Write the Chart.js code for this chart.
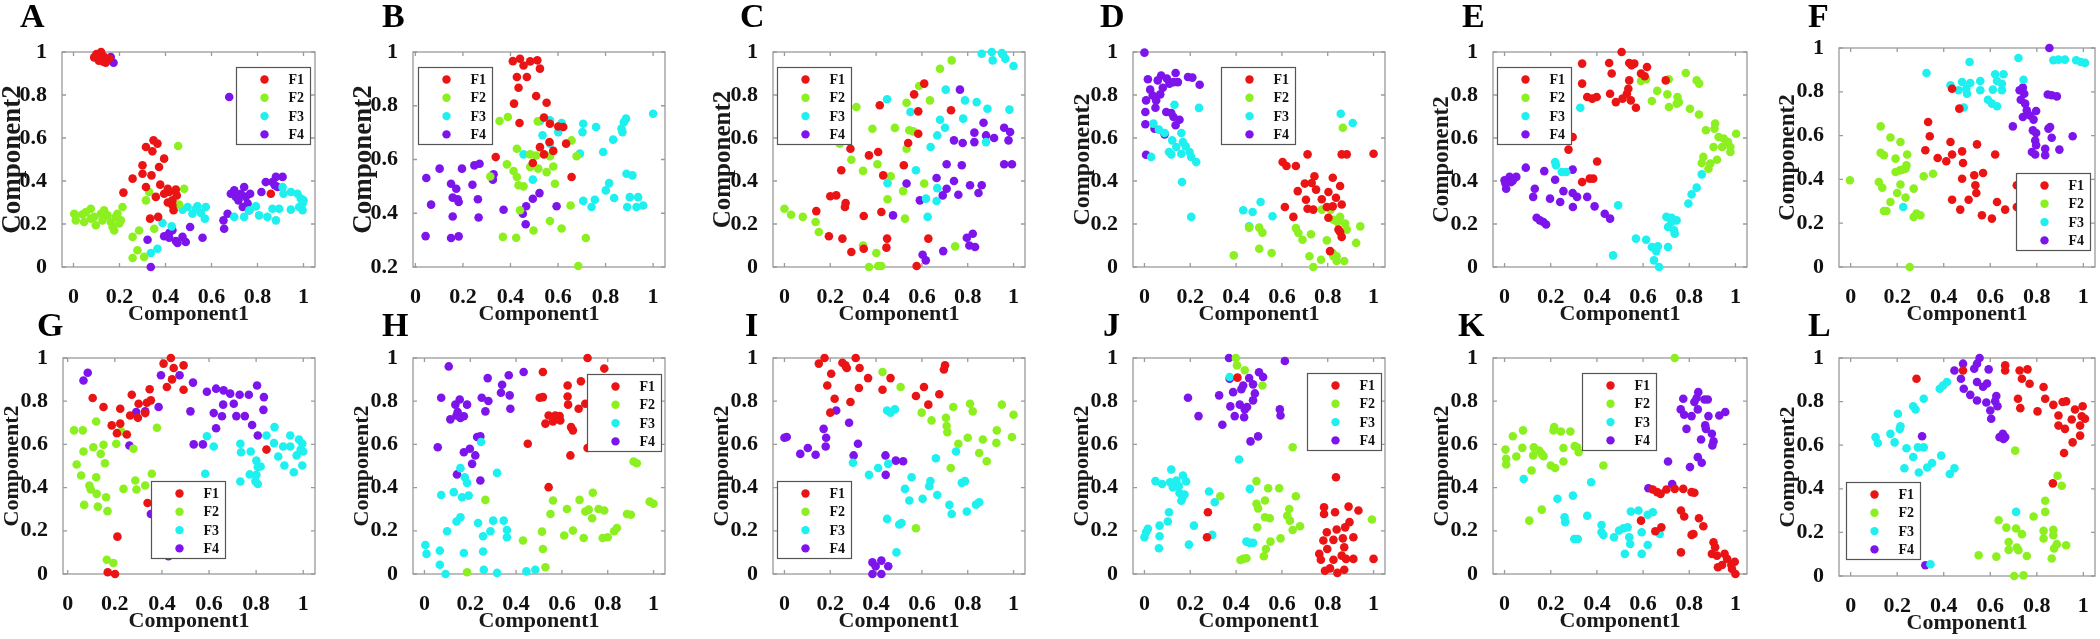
<!DOCTYPE html>
<html>
<head>
<meta charset="utf-8">
<script src="https://cdn.jsdelivr.net/npm/chart.js@4.4.0/dist/chart.umd.min.js"></script>
<style>
  html, body { margin: 0; padding: 0; background: #fff; width: 2100px; height: 639px; overflow: hidden; position: relative; }
  canvas { position: absolute; }
</style>
</head>
<body>
<script>
// series names, colours and tick values
const SERIES = ['F1', 'F2', 'F3', 'F4'];
const COLORS = ['#eb1414', '#8cf020', '#1ef0f0', '#7d14eb'];
const TICKS = [0, 0.2, 0.4, 0.6, 0.8, 1];
const TICKS_B = [0.2, 0.4, 0.6, 0.8, 1];

// panel A
const A_F1 = [[0.10,0.99],[0.12,1.0],[0.13,0.98],[0.11,0.96],[0.13,0.955],[0.155,0.97],[0.14,0.95],[0.09,0.975],[0.315,0.558],[0.348,0.589],[0.365,0.574],[0.343,0.538],[0.394,0.504],[0.30,0.473],[0.372,0.465],[0.30,0.434],[0.339,0.426],[0.257,0.411],[0.315,0.372],[0.377,0.383],[0.217,0.346],[0.358,0.326],[0.394,0.341],[0.416,0.349],[0.41,0.364],[0.445,0.36],[0.43,0.31],[0.449,0.333],[0.43,0.287],[0.41,0.30],[0.435,0.264],[0.368,0.233],[0.333,0.225],[0.858,0.341]];
const A_F2 = [[0.003,0.248],[0.01,0.217],[0.04,0.245],[0.046,0.209],[0.054,0.256],[0.075,0.271],[0.09,0.233],[0.097,0.194],[0.119,0.248],[0.126,0.217],[0.133,0.264],[0.148,0.24],[0.162,0.209],[0.17,0.186],[0.184,0.233],[0.191,0.248],[0.199,0.202],[0.177,0.17],[0.206,0.217],[0.213,0.279],[0.075,0.225],[0.01,0.24],[0.455,0.563],[0.481,0.364],[0.329,0.349],[0.315,0.31],[0.285,0.17],[0.257,0.14],[0.351,0.178],[0.278,0.078],[0.257,0.042],[0.307,0.047],[0.459,0.291]];
const A_F3 = [[0.336,0.065],[0.365,0.085],[0.387,0.205],[0.427,0.189],[0.474,0.267],[0.496,0.279],[0.517,0.248],[0.532,0.271],[0.539,0.282],[0.554,0.251],[0.575,0.279],[0.571,0.225],[0.699,0.233],[0.742,0.233],[0.764,0.264],[0.793,0.282],[0.807,0.24],[0.843,0.233],[0.88,0.217],[0.894,0.271],[0.909,0.372],[0.913,0.341],[0.945,0.349],[0.974,0.341],[0.988,0.318],[0.996,0.295],[0.981,0.279],[0.945,0.267],[0.996,0.264],[1.0,0.31],[0.865,0.271]];
const A_F4 = [[0.162,0.977],[0.174,0.95],[0.677,0.791],[0.322,0.127],[0.336,0.0],[0.394,0.143],[0.416,0.158],[0.43,0.171],[0.416,0.136],[0.445,0.121],[0.474,0.14],[0.488,0.116],[0.452,0.112],[0.507,0.186],[0.561,0.136],[0.652,0.217],[0.67,0.248],[0.655,0.178],[0.684,0.341],[0.699,0.357],[0.706,0.326],[0.717,0.31],[0.728,0.341],[0.742,0.372],[0.749,0.326],[0.757,0.295],[0.768,0.341],[0.736,0.279],[0.764,0.264],[0.817,0.349],[0.836,0.395],[0.865,0.395],[0.88,0.419],[0.909,0.419],[0.887,0.372],[0.875,0.38]];

// panel B
const B_F1 = [[0.41,0.966],[0.44,0.975],[0.455,0.95],[0.483,0.965],[0.513,0.969],[0.524,0.938],[0.427,0.907],[0.469,0.907],[0.434,0.867],[0.508,0.836],[0.415,0.808],[0.552,0.811],[0.541,0.756],[0.438,0.736],[0.566,0.733],[0.601,0.723],[0.622,0.721],[0.564,0.665],[0.524,0.646],[0.634,0.659],[0.58,0.632],[0.541,0.619],[0.338,0.609],[0.494,0.587],[0.657,0.535]];
const B_F2 = [[0.354,0.743],[0.389,0.758],[0.515,0.742],[0.427,0.64],[0.657,0.671],[0.678,0.612],[0.483,0.619],[0.508,0.615],[0.566,0.612],[0.385,0.582],[0.413,0.557],[0.427,0.535],[0.483,0.572],[0.517,0.566],[0.552,0.553],[0.58,0.574],[0.434,0.504],[0.455,0.5],[0.587,0.51],[0.315,0.537],[0.44,0.411],[0.566,0.371],[0.497,0.336],[0.615,0.343],[0.368,0.312],[0.424,0.309],[0.717,0.308],[0.685,0.204],[0.653,0.429]];
const B_F3 = [[0.524,0.743],[0.566,0.746],[0.615,0.736],[0.535,0.69],[0.601,0.702],[0.566,0.659],[0.455,0.619],[0.494,0.525],[0.706,0.733],[0.703,0.702],[0.76,0.721],[0.692,0.622],[0.79,0.628],[0.832,0.674],[0.867,0.715],[0.877,0.739],[0.886,0.752],[1.0,0.77],[0.871,0.702],[0.815,0.512],[0.801,0.485],[0.888,0.547],[0.913,0.541],[0.836,0.457],[0.937,0.46],[0.902,0.46],[0.706,0.446],[0.755,0.45],[0.741,0.423],[0.891,0.423],[0.93,0.423],[0.958,0.429]];
const B_F4 = [[0.046,0.531],[0.102,0.566],[0.196,0.566],[0.248,0.578],[0.27,0.584],[0.066,0.432],[0.15,0.51],[0.172,0.491],[0.24,0.506],[0.157,0.458],[0.178,0.452],[0.182,0.442],[0.263,0.452],[0.157,0.388],[0.266,0.384],[0.043,0.315],[0.15,0.308],[0.182,0.314],[0.329,0.545],[0.326,0.525],[0.371,0.413],[0.452,0.398],[0.466,0.426],[0.464,0.359],[0.494,0.454],[0.522,0.475],[0.594,0.426]];

// panel C
const C_F1 = [[0.288,0.55],[0.369,0.519],[0.409,0.535],[0.248,0.45],[0.431,0.426],[0.2,0.329],[0.226,0.333],[0.267,0.298],[0.264,0.279],[0.139,0.26],[0.346,0.237],[0.423,0.256],[0.194,0.143],[0.253,0.132],[0.292,0.07],[0.346,0.085],[0.448,0.132],[0.445,0.09],[0.416,0.752],[0.521,0.473],[0.54,0.577],[0.566,0.803],[0.584,0.724],[0.584,0.62],[0.61,0.853],[0.727,0.729],[0.628,0.132],[0.577,0.005]];
const C_F2 = [[0.0,0.271],[0.029,0.243],[0.08,0.233],[0.136,0.209],[0.15,0.163],[0.314,0.744],[0.384,0.643],[0.482,0.647],[0.292,0.499],[0.343,0.447],[0.406,0.478],[0.464,0.422],[0.45,0.315],[0.518,0.353],[0.526,0.225],[0.533,0.764],[0.533,0.55],[0.545,0.636],[0.562,0.631],[0.588,0.842],[0.635,0.775],[0.679,0.922],[0.73,0.961],[0.61,0.388],[0.343,0.1],[0.401,0.065],[0.369,0.0],[0.409,0.005],[0.423,0.005],[0.745,0.096],[0.241,0.574]];
const C_F3 = [[0.448,0.78],[0.55,0.721],[0.704,0.825],[0.679,0.685],[0.701,0.648],[0.667,0.612],[0.638,0.558],[0.788,0.775],[0.839,0.767],[0.78,0.69],[0.886,0.736],[0.982,0.732],[0.88,0.581],[0.861,0.992],[0.905,1.0],[0.909,0.961],[0.949,0.995],[0.964,0.969],[1.0,0.935],[0.953,0.988],[0.574,0.45],[0.45,0.39],[0.618,0.318],[0.625,0.233],[0.664,0.307],[0.667,0.367]];
const C_F4 = [[0.766,0.825],[0.829,0.625],[0.869,0.671],[0.88,0.612],[0.915,0.6],[0.959,0.648],[0.985,0.628],[0.978,0.589],[0.74,0.589],[0.778,0.577],[0.829,0.581],[0.708,0.478],[0.774,0.473],[0.959,0.478],[0.993,0.478],[0.664,0.414],[0.74,0.4],[0.81,0.38],[0.861,0.38],[0.708,0.364],[0.691,0.333],[0.759,0.336],[0.847,0.344],[0.533,0.388],[0.474,0.24],[0.591,0.31],[0.796,0.136],[0.822,0.155],[0.807,0.1],[0.832,0.093],[0.603,0.057],[0.617,0.031],[0.693,0.074]];

// panel D
const D_F1 = [[0.603,0.488],[0.62,0.47],[0.661,0.47],[0.712,0.524],[0.669,0.353],[0.7,0.388],[0.73,0.391],[0.742,0.422],[0.749,0.36],[0.705,0.313],[0.712,0.271],[0.737,0.267],[0.774,0.315],[0.796,0.279],[0.803,0.349],[0.822,0.415],[0.836,0.322],[0.854,0.377],[0.861,0.291],[0.822,0.282],[0.803,0.229],[0.847,0.174],[0.861,0.14],[0.81,0.074],[0.613,0.279],[0.65,0.233],[0.861,0.524],[0.883,0.524],[1.0,0.527],[0.854,0.163]];
const D_F2 = [[0.866,0.648],[0.39,0.054],[0.457,0.183],[0.501,0.183],[0.515,0.16],[0.501,0.085],[0.555,0.065],[0.661,0.181],[0.672,0.158],[0.69,0.127],[0.727,0.152],[0.72,0.05],[0.737,0.0],[0.771,0.034],[0.796,0.124],[0.813,0.267],[0.825,0.22],[0.842,0.209],[0.854,0.233],[0.876,0.202],[0.883,0.174],[0.872,0.028],[0.839,0.05],[0.822,0.065],[0.839,0.028],[0.942,0.189],[0.924,0.112],[0.774,0.267],[0.825,0.05]];
const D_F3 = [[0.131,0.755],[0.238,0.74],[0.039,0.667],[0.063,0.639],[0.088,0.623],[0.121,0.589],[0.139,0.558],[0.161,0.623],[0.168,0.581],[0.18,0.561],[0.197,0.535],[0.226,0.488],[0.161,0.527],[0.107,0.535],[0.117,0.524],[0.029,0.512],[0.164,0.395],[0.204,0.233],[0.431,0.264],[0.472,0.256],[0.507,0.302],[0.559,0.236],[0.457,0.189],[0.857,0.713],[0.909,0.67],[0.204,0.512]];
const D_F4 = [[0.0,0.997],[0.015,0.873],[0.025,0.825],[0.007,0.775],[0.004,0.721],[0.004,0.664],[0.007,0.522],[0.048,0.741],[0.044,0.643],[0.088,0.617],[0.073,0.891],[0.058,0.868],[0.098,0.876],[0.109,0.853],[0.136,0.902],[0.146,0.86],[0.127,0.86],[0.069,0.803],[0.08,0.834],[0.095,0.721],[0.117,0.716],[0.127,0.698],[0.136,0.659],[0.153,0.685],[0.19,0.884],[0.209,0.881],[0.241,0.848],[0.036,0.798],[0.051,0.775]];

// panel E
const E_F1 = [[0.507,1.0],[0.336,0.946],[0.453,0.949],[0.54,0.949],[0.55,0.938],[0.562,0.946],[0.617,0.93],[0.464,0.9],[0.336,0.853],[0.54,0.868],[0.591,0.9],[0.607,0.887],[0.698,0.868],[0.536,0.829],[0.53,0.806],[0.457,0.806],[0.511,0.783],[0.482,0.767],[0.547,0.775],[0.569,0.741],[0.358,0.791],[0.38,0.783],[0.399,0.791],[0.295,0.605],[0.277,0.546],[0.401,0.491],[0.336,0.395],[0.369,0.411],[0.384,0.411]];
const E_F2 = [[0.591,0.865],[0.613,0.873],[0.711,0.873],[0.785,0.902],[0.832,0.868],[0.843,0.853],[0.661,0.819],[0.638,0.772],[0.705,0.803],[0.749,0.791],[0.755,0.767],[0.712,0.744],[0.746,0.76],[0.803,0.736],[0.842,0.709],[0.872,0.636],[0.912,0.667],[0.909,0.643],[0.927,0.605],[0.949,0.597],[0.968,0.581],[1.003,0.62],[0.905,0.558],[0.942,0.558],[0.978,0.558],[0.978,0.535],[0.861,0.512],[0.854,0.484],[0.92,0.499],[0.891,0.481],[0.883,0.457]];
const E_F3 = [[0.328,0.741],[0.219,0.488],[0.223,0.473],[0.248,0.442],[0.267,0.442],[0.492,0.287],[0.47,0.054],[0.569,0.132],[0.613,0.127],[0.638,0.093],[0.664,0.096],[0.647,0.031],[0.669,0.0],[0.657,0.074],[0.708,0.093],[0.701,0.233],[0.723,0.229],[0.745,0.217],[0.708,0.186],[0.734,0.171],[0.737,0.155],[0.723,0.209],[0.796,0.295],[0.81,0.338],[0.832,0.369],[0.854,0.431]];
const E_F4 = [[0.0,0.403],[0.007,0.364],[0.022,0.419],[0.029,0.395],[0.036,0.403],[0.051,0.419],[0.004,0.388],[0.092,0.462],[0.131,0.364],[0.124,0.326],[0.139,0.229],[0.153,0.217],[0.168,0.209],[0.18,0.198],[0.172,0.446],[0.197,0.318],[0.219,0.406],[0.241,0.302],[0.255,0.353],[0.295,0.344],[0.314,0.326],[0.296,0.279],[0.295,0.453],[0.358,0.326],[0.39,0.282],[0.434,0.248],[0.457,0.225]];

// panel F
const F_F1 = [[0.436,0.814],[0.467,0.723],[0.333,0.662],[0.34,0.597],[0.429,0.571],[0.321,0.533],[0.374,0.498],[0.411,0.483],[0.436,0.514],[0.479,0.528],[0.483,0.475],[0.543,0.56],[0.531,0.419],[0.569,0.429],[0.536,0.373],[0.54,0.338],[0.479,0.403],[0.436,0.307],[0.507,0.307],[0.471,0.262],[0.564,0.236],[0.607,0.221],[0.621,0.514],[0.629,0.297],[0.664,0.262],[0.714,0.373],[0.714,0.274]];
const F_F2 = [[-0.003,0.396],[0.129,0.642],[0.171,0.591],[0.214,0.571],[0.129,0.521],[0.143,0.51],[0.193,0.495],[0.243,0.514],[0.24,0.464],[0.211,0.441],[0.193,0.434],[0.221,0.444],[0.236,0.449],[0.121,0.388],[0.136,0.362],[0.214,0.377],[0.2,0.338],[0.236,0.317],[0.271,0.358],[0.314,0.414],[0.354,0.426],[0.171,0.297],[0.143,0.256],[0.154,0.256],[0.271,0.228],[0.283,0.244],[0.3,0.236],[0.254,0.0]];
const F_F3 = [[0.326,0.886],[0.511,0.936],[0.721,0.954],[0.429,0.83],[0.479,0.845],[0.497,0.814],[0.514,0.84],[0.557,0.849],[0.464,0.807],[0.5,0.791],[0.557,0.807],[0.621,0.88],[0.657,0.88],[0.629,0.849],[0.65,0.837],[0.611,0.81],[0.65,0.807],[0.59,0.764],[0.607,0.746],[0.629,0.734],[0.743,0.855],[0.486,0.728],[0.871,0.944],[0.893,0.947],[0.921,0.947],[0.969,0.944],[0.989,0.936],[1.007,0.932],[0.226,0.274]];
const F_F4 = [[0.854,1.0],[0.697,0.642],[0.726,0.807],[0.74,0.819],[0.746,0.791],[0.731,0.764],[0.75,0.746],[0.757,0.715],[0.74,0.685],[0.771,0.692],[0.797,0.712],[0.786,0.673],[0.783,0.624],[0.797,0.612],[0.793,0.578],[0.797,0.556],[0.779,0.525],[0.793,0.514],[0.836,0.54],[0.836,0.51],[0.85,0.632],[0.864,0.59],[0.897,0.536],[0.954,0.597],[0.847,0.788],[0.864,0.784],[0.886,0.779],[0.857,0.639]];

// panel G
const G_F1 = [[0.438,1.0],[0.407,0.974],[0.45,0.954],[0.492,0.966],[0.443,0.901],[0.421,0.866],[0.492,0.853],[0.348,0.855],[0.353,0.804],[0.336,0.793],[0.272,0.83],[0.301,0.788],[0.106,0.815],[0.152,0.773],[0.223,0.765],[0.265,0.734],[0.298,0.723],[0.329,0.745],[0.187,0.688],[0.223,0.696],[0.209,0.652],[0.251,0.646],[0.339,0.329],[0.211,0.173],[0.17,0.008],[0.201,0.0],[0.844,0.576]];
const G_F2 = [[0.027,0.665],[0.064,0.665],[0.121,0.706],[0.067,0.567],[0.038,0.507],[0.057,0.456],[0.109,0.587],[0.152,0.598],[0.14,0.556],[0.158,0.513],[0.206,0.603],[0.228,0.66],[0.279,0.58],[0.379,0.677],[0.092,0.41],[0.098,0.391],[0.121,0.448],[0.123,0.371],[0.163,0.355],[0.07,0.32],[0.128,0.312],[0.169,0.291],[0.287,0.433],[0.292,0.391],[0.329,0.41],[0.357,0.464],[0.237,0.394],[0.166,0.066],[0.194,0.051]];
const G_F3 = [[0.591,0.638],[0.584,0.464],[0.62,0.59],[0.733,0.603],[0.736,0.564],[0.777,0.567],[0.733,0.428],[0.773,0.461],[0.801,0.459],[0.797,0.43],[0.807,0.417],[0.801,0.525],[0.819,0.498],[0.807,0.495],[0.844,0.641],[0.878,0.68],[0.876,0.606],[0.894,0.544],[0.915,0.59],[0.92,0.502],[0.945,0.641],[0.945,0.59],[0.96,0.471],[0.982,0.623],[0.996,0.603],[0.989,0.575],[0.996,0.502],[0.972,0.549],[1.0,0.567]];
const G_F4 = [[0.067,0.896],[0.085,0.932],[0.396,0.92],[0.475,0.92],[0.532,0.886],[0.521,0.753],[0.591,0.844],[0.63,0.858],[0.662,0.85],[0.69,0.835],[0.73,0.83],[0.769,0.83],[0.804,0.873],[0.833,0.819],[0.831,0.76],[0.783,0.69],[0.807,0.641],[0.62,0.745],[0.655,0.73],[0.66,0.784],[0.705,0.788],[0.716,0.731],[0.752,0.731],[0.63,0.675],[0.535,0.6],[0.574,0.6],[0.291,0.75],[0.329,0.753],[0.386,0.773],[0.262,0.595],[0.353,0.278],[0.428,0.082]];

// panel H
const H_F1 = [[0.712,1.0],[0.785,0.951],[0.517,0.935],[0.625,0.873],[0.683,0.892],[0.503,0.816],[0.517,0.819],[0.625,0.822],[0.627,0.784],[0.702,0.788],[0.673,0.765],[0.528,0.696],[0.542,0.734],[0.571,0.734],[0.59,0.731],[0.561,0.706],[0.593,0.711],[0.64,0.68],[0.648,0.665],[0.451,0.603],[0.637,0.549],[0.712,0.583],[0.542,0.402]];
const H_F2 = [[0.913,0.521],[0.927,0.513],[0.266,0.343],[0.561,0.34],[0.622,0.301],[0.677,0.343],[0.735,0.376],[0.55,0.278],[0.702,0.289],[0.717,0.298],[0.732,0.258],[0.76,0.301],[0.785,0.294],[0.884,0.278],[0.901,0.274],[0.983,0.335],[1.0,0.325],[0.43,0.155],[0.513,0.196],[0.517,0.116],[0.61,0.178],[0.648,0.201],[0.695,0.167],[0.778,0.167],[0.8,0.17],[0.828,0.198],[0.84,0.213],[0.528,0.031],[0.186,0.008]];
const H_F3 = [[0.004,0.134],[0.009,0.093],[0.067,0.108],[0.067,0.043],[0.092,0.0],[0.099,0.198],[0.073,0.366],[0.128,0.379],[0.157,0.49],[0.14,0.243],[0.157,0.263],[0.172,0.097],[0.164,0.355],[0.186,0.422],[0.176,0.448],[0.193,0.363],[0.234,0.236],[0.247,0.611],[0.256,0.175],[0.256,0.104],[0.259,0.02],[0.288,0.198],[0.3,0.247],[0.317,0.468],[0.317,0.005],[0.346,0.247],[0.36,0.204],[0.36,0.17],[0.445,0.012],[0.484,0.02]];
const H_F4 = [[0.106,0.961],[0.073,0.816],[0.058,0.587],[0.113,0.716],[0.135,0.784],[0.145,0.75],[0.14,0.734],[0.157,0.722],[0.154,0.808],[0.172,0.73],[0.186,0.784],[0.276,0.907],[0.25,0.816],[0.279,0.801],[0.266,0.753],[0.339,0.876],[0.334,0.839],[0.368,0.92],[0.372,0.827],[0.375,0.765],[0.433,0.935],[0.23,0.634],[0.244,0.637],[0.172,0.564],[0.198,0.58],[0.222,0.549],[0.208,0.51],[0.142,0.461],[0.244,0.433]];

// panel I
const I_F1 = [[0.175,1.0],[0.15,0.974],[0.204,0.927],[0.187,0.873],[0.219,0.811],[0.2,0.747],[0.253,0.978],[0.266,0.966],[0.272,0.954],[0.311,1.0],[0.328,0.954],[0.325,0.861],[0.365,0.907],[0.288,0.796],[0.428,0.853],[0.463,0.907],[0.574,0.824],[0.609,0.866],[0.628,0.784],[0.676,0.832],[0.701,0.966],[0.696,0.947]];
const I_F2 = [[0.428,0.935],[0.507,0.866],[0.599,0.747],[0.642,0.711],[0.705,0.723],[0.708,0.685],[0.711,0.657],[0.737,0.773],[0.81,0.788],[0.822,0.753],[0.949,0.784],[1.0,0.737],[0.759,0.603],[0.8,0.631],[0.866,0.623],[0.85,0.56],[0.883,0.522],[0.927,0.665],[0.925,0.607],[0.993,0.634],[0.726,0.491],[0.574,0.212]];
const I_F3 = [[0.448,0.757],[0.463,0.747],[0.482,0.762],[0.299,0.515],[0.369,0.459],[0.409,0.491],[0.453,0.51],[0.526,0.394],[0.555,0.448],[0.545,0.34],[0.603,0.348],[0.632,0.406],[0.637,0.43],[0.661,0.536],[0.667,0.366],[0.749,0.567],[0.72,0.32],[0.73,0.278],[0.774,0.422],[0.788,0.43],[0.796,0.289],[0.836,0.321],[0.85,0.332],[0.448,0.255],[0.501,0.229],[0.511,0.236],[0.489,0.1]];
const I_F4 = [[0.0,0.631],[0.01,0.634],[0.069,0.556],[0.102,0.583],[0.136,0.552],[0.171,0.672],[0.182,0.631],[0.18,0.59],[0.226,0.757],[0.282,0.7],[0.321,0.603],[0.302,0.549],[0.441,0.549],[0.442,0.459],[0.486,0.525],[0.518,0.522],[0.384,0.054],[0.398,0.036],[0.423,0.062],[0.453,0.036],[0.384,0.0],[0.423,0.0]];

// panel J
const J_F1 = [[0.406,0.909],[0.277,0.286],[0.273,0.17],[0.784,0.309],[0.784,0.278],[0.832,0.286],[0.836,0.448],[0.891,0.312],[0.934,0.294],[0.796,0.193],[0.839,0.206],[0.876,0.216],[0.895,0.24],[0.912,0.17],[0.781,0.155],[0.825,0.158],[0.866,0.165],[0.872,0.124],[0.763,0.093],[0.798,0.116],[0.77,0.066],[0.825,0.066],[0.861,0.085],[0.88,0.07],[0.912,0.07],[1.0,0.07],[0.81,0.026],[0.842,0.005],[0.872,0.02],[0.788,0.015]];
const J_F2 = [[0.399,1.0],[0.404,0.966],[0.438,0.943],[0.515,0.873],[0.647,0.587],[0.489,0.43],[0.54,0.397],[0.588,0.397],[0.661,0.36],[0.331,0.36],[0.489,0.325],[0.496,0.304],[0.526,0.34],[0.526,0.263],[0.547,0.258],[0.623,0.27],[0.632,0.301],[0.635,0.247],[0.492,0.216],[0.594,0.165],[0.55,0.15],[0.53,0.116],[0.521,0.082],[0.647,0.204],[0.679,0.221],[0.993,0.252],[0.419,0.065],[0.431,0.07],[0.445,0.073]];
const J_F3 = [[0.372,0.912],[0.413,0.53],[0.46,0.394],[0.282,0.382],[0.307,0.332],[0.296,0.181],[0.216,0.224],[0.194,0.136],[0.063,0.119],[0.066,0.175],[0.066,0.224],[0.007,0.193],[0.015,0.209],[0.0,0.17],[0.102,0.243],[0.107,0.286],[0.048,0.43],[0.077,0.417],[0.117,0.484],[0.112,0.425],[0.124,0.402],[0.139,0.433],[0.15,0.407],[0.168,0.456],[0.182,0.428],[0.153,0.375],[0.165,0.352],[0.175,0.368],[0.161,0.339],[0.445,0.15],[0.46,0.144],[0.474,0.144]];
const J_F4 = [[0.369,1.0],[0.372,0.904],[0.613,0.986],[0.19,0.816],[0.236,0.731],[0.326,0.827],[0.34,0.691],[0.387,0.842],[0.375,0.776],[0.394,0.731],[0.416,0.784],[0.423,0.855],[0.431,0.873],[0.457,0.907],[0.474,0.878],[0.438,0.762],[0.435,0.726],[0.448,0.773],[0.474,0.804],[0.482,0.836],[0.5,0.934],[0.518,0.912],[0.463,0.614],[0.496,0.637],[0.591,0.762],[0.594,0.734]];

// panel K
const K_F1 = [[0.642,0.391],[0.661,0.379],[0.676,0.371],[0.701,0.391],[0.737,0.394],[0.774,0.394],[0.81,0.379],[0.822,0.376],[0.764,0.294],[0.778,0.266],[0.842,0.258],[0.861,0.221],[0.81,0.181],[0.818,0.185],[0.591,0.247],[0.653,0.198],[0.679,0.216],[0.764,0.1],[0.905,0.147],[0.912,0.124],[0.898,0.093],[0.92,0.085],[0.953,0.093],[0.964,0.07],[0.982,0.042],[0.997,0.057],[0.942,0.042],[0.924,0.031],[0.985,0.023],[1.0,0.0]];
const K_F2 = [[0.004,0.576],[0.007,0.533],[0.007,0.507],[0.036,0.638],[0.051,0.544],[0.077,0.584],[0.08,0.665],[0.117,0.479],[0.127,0.587],[0.124,0.549],[0.15,0.572],[0.161,0.556],[0.169,0.545],[0.2,0.502],[0.219,0.491],[0.215,0.68],[0.212,0.665],[0.244,0.66],[0.255,0.583],[0.255,0.521],[0.285,0.66],[0.304,0.592],[0.314,0.587],[0.321,0.564],[0.428,0.502],[0.107,0.247],[0.161,0.298],[0.737,1.0]];
const K_F3 = [[0.083,0.44],[0.229,0.348],[0.26,0.263],[0.263,0.24],[0.296,0.363],[0.302,0.162],[0.317,0.162],[0.358,0.27],[0.375,0.425],[0.42,0.227],[0.42,0.193],[0.428,0.181],[0.474,0.17],[0.496,0.201],[0.515,0.212],[0.533,0.216],[0.54,0.17],[0.544,0.139],[0.521,0.093],[0.547,0.289],[0.58,0.294],[0.594,0.193],[0.594,0.093],[0.62,0.134],[0.62,0.274],[0.642,0.286],[0.672,0.185]];
const K_F4 = [[0.623,0.397],[0.726,0.417],[0.708,0.521],[0.774,0.811],[0.763,0.762],[0.778,0.737],[0.788,0.672],[0.81,0.731],[0.822,0.796],[0.832,0.815],[0.839,0.842],[0.837,0.762],[0.866,0.808],[0.88,0.808],[0.883,0.731],[0.869,0.688],[0.872,0.672],[0.851,0.623],[0.898,0.649],[0.905,0.614],[0.9,0.595],[0.93,0.734],[0.956,0.75],[0.837,0.541],[0.854,0.515],[0.803,0.495]];

// panel L
const L_F1 = [[0.283,0.905],[0.483,0.943],[0.664,0.966],[0.664,0.943],[0.726,0.943],[0.76,0.948],[0.736,0.905],[0.769,0.882],[0.829,0.867],[0.836,0.813],[0.803,0.755],[0.719,0.813],[0.729,0.77],[0.871,0.785],[0.911,0.798],[0.926,0.801],[0.893,0.736],[0.893,0.69],[0.921,0.675],[0.95,0.718],[0.964,0.764],[0.997,0.779],[0.993,0.733],[1.007,0.721],[0.986,0.69],[0.986,0.644],[0.954,0.613],[0.917,0.564],[0.869,0.425]];
const L_F2 = [[0.707,0.575],[0.889,0.46],[0.907,0.414],[0.836,0.345],[0.836,0.294],[0.786,0.273],[0.636,0.256],[0.669,0.222],[0.711,0.218],[0.736,0.192],[0.829,0.207],[0.829,0.172],[0.871,0.212],[0.871,0.187],[0.886,0.146],[0.874,0.126],[0.926,0.141],[0.864,0.08],[0.757,0.092],[0.714,0.13],[0.721,0.118],[0.679,0.156],[0.679,0.12],[0.626,0.089],[0.55,0.095],[0.703,0.0],[0.743,0.003]];
const L_F3 = [[0.711,0.294],[0.107,0.637],[0.117,0.61],[0.171,0.652],[0.189,0.613],[0.203,0.744],[0.211,0.675],[0.214,0.687],[0.24,0.586],[0.231,0.494],[0.269,0.779],[0.279,0.764],[0.269,0.546],[0.293,0.475],[0.289,0.59],[0.314,0.59],[0.314,0.813],[0.329,0.498],[0.35,0.518],[0.389,0.552],[0.383,0.859],[0.397,0.874],[0.414,0.89],[0.426,0.468],[0.446,0.494],[0.343,0.054]];
const L_F4 = [[0.446,0.943],[0.483,0.974],[0.474,0.905],[0.486,0.859],[0.514,0.831],[0.531,0.951],[0.543,0.974],[0.554,1.0],[0.543,0.89],[0.543,0.805],[0.569,0.868],[0.586,0.883],[0.593,0.948],[0.583,0.796],[0.6,0.759],[0.604,0.721],[0.626,0.826],[0.621,0.802],[0.631,0.779],[0.64,0.637],[0.654,0.652],[0.664,0.637],[0.657,0.629],[0.307,0.641],[0.321,0.049]];

const FONT = '"Liberation Serif", "Times New Roman", serif';
const AXIS_W = 62, TOP_PAD = 52, XAXIS_H = 66, RIGHT_PAD = 8;

// plot box in page pixels [left, top, right, bottom], legend anchor in data units
const panels = [
  { id: 'A', data: [A_F1, A_F2, A_F3, A_F4], box: [62, 52, 315, 267],   xMin: -0.05, yMin: 0,   yTicks: TICKS,   legend: [0.706, 0.93],  dx: -42, dy: -25, yt: 27 },
  { id: 'B', data: [B_F1, B_F2, B_F3, B_F4], box: [413, 52, 665, 267],  xMin: -0.01, yMin: 0.2, yTicks: TICKS_B, legend: [0.011, 0.944], dx: -31, dy: -25, yt: 27 },
  { id: 'C', data: [C_F1, C_F2, C_F3, C_F4], box: [773, 52, 1025, 267], xMin: -0.05, yMin: 0,   yTicks: TICKS,   legend: [-0.032, 0.93], dx: -33, dy: -25, yt: 25 },
  { id: 'D', data: [D_F1, D_F2, D_F3, D_F4], box: [1133, 52, 1385, 267],xMin: -0.05, yMin: 0,   yTicks: TICKS,   legend: [0.336, 0.93],  dx: -33, dy: -25, yt: 24 },
  { id: 'E', data: [E_F1, E_F2, E_F3, E_F4], box: [1493, 52, 1747, 267],xMin: -0.05, yMin: 0,   yTicks: TICKS,   legend: [-0.034, 0.93], dx: -31, dy: -25, yt: 23 },
  { id: 'F', data: [F_F1, F_F2, F_F3, F_F4], box: [1839, 48, 2095, 267],xMin: -0.05, yMin: 0,   yTicks: TICKS,   legend: [0.711, 0.429], dx: -31, dy: -21, yt: 23 },
  { id: 'G', data: [G_F1, G_F2, G_F3, G_F4], box: [63, 358, 315, 574],  xMin: -0.02, yMin: 0,   yTicks: TICKS,   legend: [0.353, 0.43],  dx: -26, dy: -22, yt: 22 },
  { id: 'H', data: [H_F1, H_F2, H_F3, H_F4], box: [413, 358, 665, 574], xMin: -0.05, yMin: 0,   yTicks: TICKS,   legend: [0.709, 0.927], dx: -31, dy: -22, yt: 22 },
  { id: 'I', data: [I_F1, I_F2, I_F3, I_F4], box: [773, 358, 1025, 574],xMin: -0.05, yMin: 0,   yTicks: TICKS,   legend: [-0.032, 0.43], dx: -28, dy: -22, yt: 22 },
  { id: 'J', data: [J_F1, J_F2, J_F3, J_F4], box: [1133, 358, 1385, 574],xMin: -0.05, yMin: 0,  yTicks: TICKS,   legend: [0.708, 0.93],  dx: -30, dy: -22, yt: 22 },
  { id: 'K', data: [K_F1, K_F2, K_F3, K_F4], box: [1493, 358, 1747, 574],xMin: -0.05, yMin: 0,  yTicks: TICKS,   legend: [0.336, 0.93],  dx: -35, dy: -22, yt: 22 },
  { id: 'L', data: [L_F1, L_F2, L_F3, L_F4], box: [1839, 358, 2095, 576],xMin: -0.05, yMin: 0,  yTicks: TICKS,   legend: [-0.021, 0.429],dx: -31, dy: -22, yt: 22 }
];

// box frame with inward ticks, boxed legend, panel letter
const panelPlugin = {
  id: 'panel',
  beforeDatasetsDraw(chart) {
    const { ctx, chartArea: a, scales: { x, y } } = chart;
    ctx.save();
    ctx.strokeStyle = '#9a9a9a';
    ctx.lineWidth = 1.3;
    ctx.strokeRect(a.left, a.top, a.right - a.left, a.bottom - a.top);
    ctx.beginPath();
    x.ticks.forEach(t => {
      const px = x.getPixelForValue(t.value);
      ctx.moveTo(px, a.bottom); ctx.lineTo(px, a.bottom - 4);
      ctx.moveTo(px, a.top); ctx.lineTo(px, a.top + 4);
    });
    y.ticks.forEach(t => {
      const py = y.getPixelForValue(t.value);
      ctx.moveTo(a.left, py); ctx.lineTo(a.left + 4, py);
      ctx.moveTo(a.right, py); ctx.lineTo(a.right - 4, py);
    });
    ctx.stroke();
    ctx.restore();
  },
  afterDatasetsDraw(chart, args, opts) {
    const { ctx, scales: { x, y } } = chart;
    const bx = Math.round(x.getPixelForValue(opts.legendAt[0])) + 0.5;
    const by = Math.round(y.getPixelForValue(opts.legendAt[1])) + 0.5;
    ctx.save();
    ctx.fillStyle = '#fff';
    ctx.fillRect(bx, by, 74, 77);
    ctx.strokeStyle = '#555';
    ctx.lineWidth = 1.2;
    ctx.strokeRect(bx, by, 74, 77);
    ctx.font = 'bold 14px ' + FONT;
    ctx.textBaseline = 'middle';
    chart.data.datasets.forEach((ds, i) => {
      const cy = by + 12 + i * 18.3;
      ctx.fillStyle = ds.backgroundColor;
      ctx.beginPath();
      ctx.arc(bx + 28, cy, 4.2, 0, Math.PI * 2);
      ctx.fill();
      ctx.fillStyle = '#111';
      ctx.fillText(ds.label, bx + 52, cy + 1);
    });
    ctx.restore();
  },
  afterDraw(chart, args, opts) {
    const { ctx, chartArea: a } = chart;
    ctx.save();
    ctx.fillStyle = '#000';
    ctx.font = 'bold 34px ' + FONT;
    ctx.textBaseline = 'alphabetic';
    ctx.fillText(opts.letter, a.left + opts.dx, a.top + opts.dy);
    ctx.restore();
  }
};

const tickFont = { family: FONT, size: 22, weight: 'bold' };

panels.forEach(p => {
  const [l, t, r, b] = p.box;
  const W = AXIS_W + (r - l) + RIGHT_PAD;
  const H = TOP_PAD + (b - t) + XAXIS_H;
  const cv = document.createElement('canvas');
  cv.width = W; cv.height = H;
  cv.style.width = W + 'px'; cv.style.height = H + 'px';
  cv.style.left = (l - AXIS_W) + 'px';
  cv.style.top = (t - TOP_PAD) + 'px';
  document.body.appendChild(cv);

  new Chart(cv, {
    type: 'scatter',
    data: {
      datasets: SERIES.map((name, i) => ({
        label: name,
        data: p.data[i].map(([x, y]) => ({ x, y })),
        backgroundColor: COLORS[i],
        borderWidth: 0,
        pointRadius: 4.3,
        pointHoverRadius: 4.3,
        clip: false
      }))
    },
    options: {
      responsive: false,
      animation: false,
      events: [],
      layout: { padding: { left: 0, top: TOP_PAD, right: RIGHT_PAD, bottom: 0 }, autoPadding: false },
      plugins: {
        legend: { display: false },
        tooltip: { enabled: false },
        panel: { letter: p.id, legendAt: p.legend, dx: p.dx, dy: p.dy }
      },
      scales: {
        x: {
          type: 'linear',
          min: p.xMin,
          max: 1.05,
          afterBuildTicks: s => { s.ticks = TICKS.map(v => ({ value: v })); },
          afterFit: s => { s.height = XAXIS_H; },
          grid: { display: false },
          border: { display: false },
          ticks: { padding: 9, color: '#111', font: tickFont, maxRotation: 0, autoSkip: false, callback: v => String(v) },
          title: { display: true, text: 'Component1', color: '#1a1a1a', font: { family: FONT, size: 22, weight: 'bold' }, padding: { top: 0, bottom: 5 } }
        },
        y: {
          type: 'linear',
          min: p.yMin,
          max: 1,
          afterBuildTicks: s => { s.ticks = p.yTicks.map(v => ({ value: v })); },
          afterFit: s => { s.width = AXIS_W; },
          grid: { display: false },
          border: { display: false },
          ticks: { padding: 7, color: '#111', font: tickFont, autoSkip: false, callback: v => String(v) },
          title: { display: true, text: 'Component2', color: '#1a1a1a', font: { family: FONT, size: p.yt, weight: 'bold', lineHeight: 1 }, padding: { top: 0, bottom: 0 } }
        }
      }
    },
    plugins: [panelPlugin]
  });
});
</script>
</body>
</html>
